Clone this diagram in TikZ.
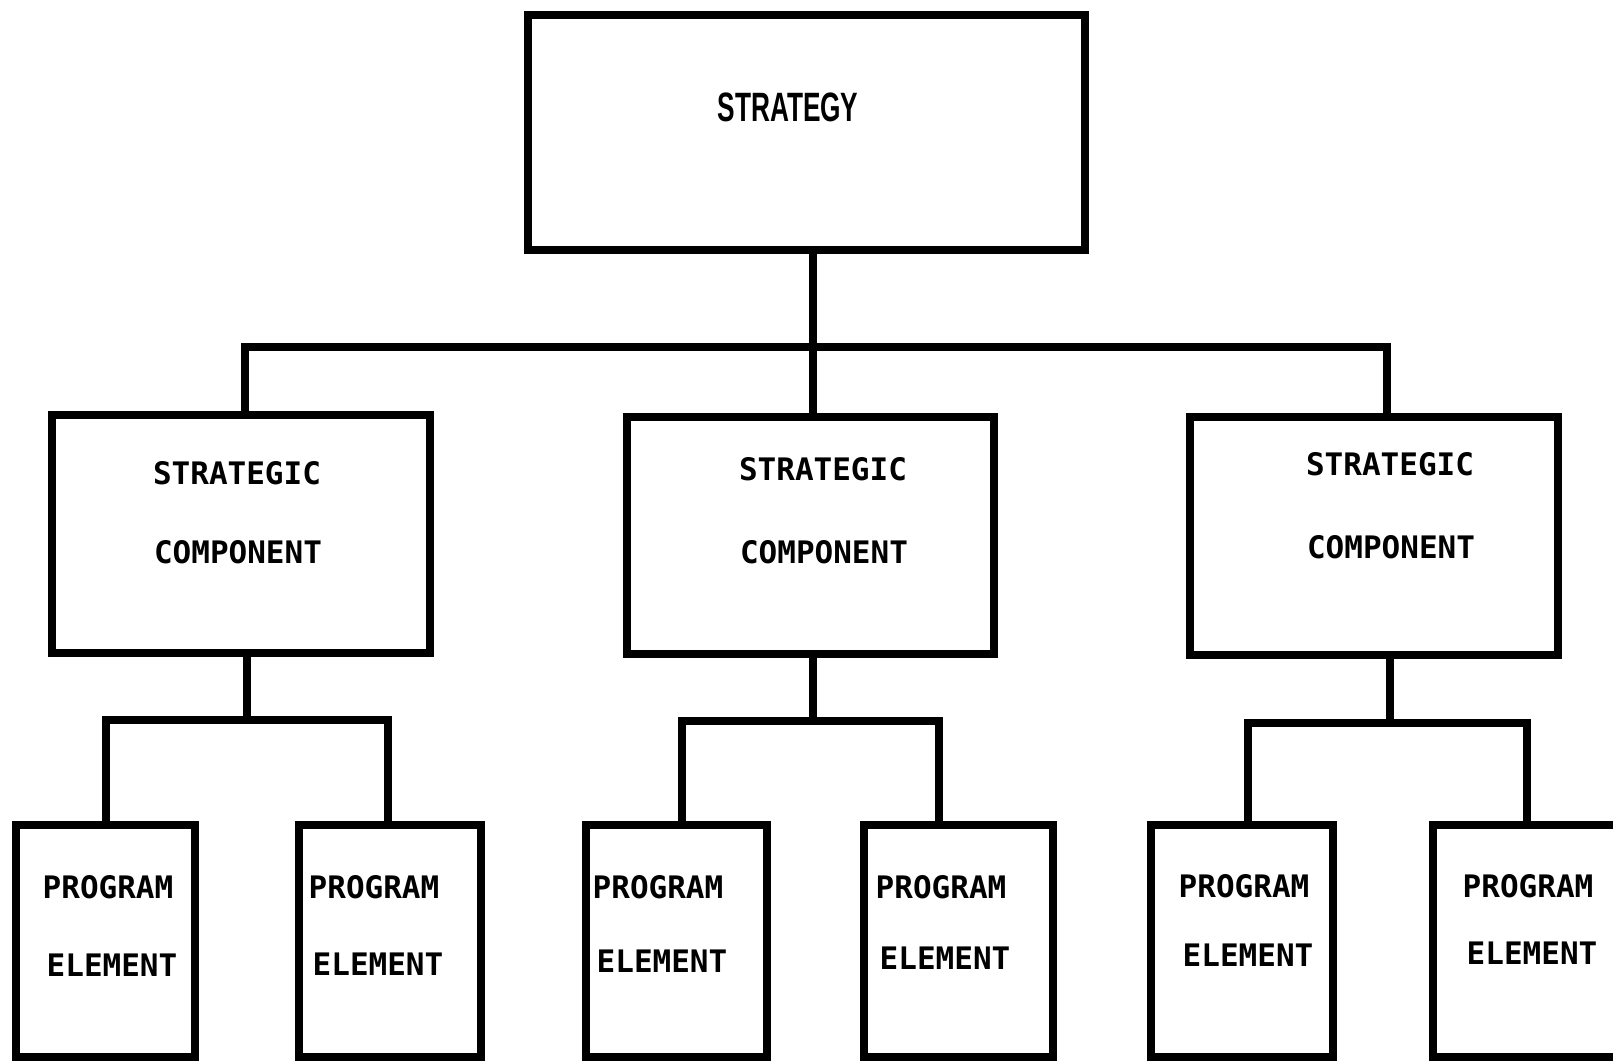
\documentclass[tikz,border=0pt]{standalone}
\usepackage{fontspec}
\newfontfamily\headfont[FakeStretch=0.64]{Liberation Sans}
\newfontfamily\typefont{DejaVu Sans Mono}

\tikzset{
  box/.style={draw, rectangle, line width=8pt, inner sep=0pt},
  wire/.style={line width=8pt, line join=miter},
  typed/.style={font=\typefont\bfseries\fontsize{31}{31}\selectfont, inner sep=0pt},
  heading/.style={font=\headfont\bfseries\fontsize{41}{41}\selectfont, inner sep=0pt},
}

\begin{document}
\begin{tikzpicture}[x=1pt,y=-1pt]
    \clip (0,0) rectangle (1613,1063);

    \node[box, minimum width=557pt, minimum height=235pt] (s) at (806.5,132.5) {};
    \node[heading] (s-t) at (788,107) {STRATEGY};

    \node[box, minimum width=378pt, minimum height=238pt] (c1) at (241,534) {};
    \node[box, minimum width=367pt, minimum height=237pt] (c2) at (810.5,535.5) {};
    \node[box, minimum width=368pt, minimum height=238pt] (c3) at (1374,536) {};

    \foreach \c/\x/\ya/\yb in {c1/237/473/552, c2/823/469/552, c3/1390/464/547} {
      \node[typed] (\c-a) at (\x,\ya) {STRATEGIC};
      \node[typed] (\c-b) at (\x+1,\yb) {COMPONENT};
    }

    \foreach \p/\x/\w/\tx/\ya/\yb in {p1/105.5/179/108/887/965, p2/390/182/374/887/964,
                                      p3/676.5/181/658/887/961, p4/958.5/189/941/887/958,
                                      p5/1242/182/1244/886/955, p6/1527.5/189/1528/886/953} {
      \node[box, minimum width=\w pt, minimum height=232pt] (\p) at (\x,941) {};
      \node[typed] (\p-a) at (\tx,\ya) {PROGRAM};
      \node[typed] (\p-b) at (\tx+4,\yb) {ELEMENT};
    }

    \coordinate (d1) at (245,347);
    \coordinate (d2) at (813,347);
    \coordinate (d3) at (1387,347);
    \draw[wire] (d1 |- c1.north) -- (d1) -- (d3) -- (d3 |- c3.north);
    \draw[wire] (d2 |- s.south) -- (d2 |- c2.north);

    \foreach \c/\l/\r/\t/\a/\b/\y in {c1/p1/p2/247/106/388/720, c2/p3/p4/813/682/939/721,
                                      c3/p5/p6/1390/1248/1527/723} {
      \coordinate (\c-j) at (\t,\y);
      \coordinate (\l-j) at (\a,\y);
      \coordinate (\r-j) at (\b,\y);
      \draw[wire] (\c-j |- \c.south) -- (\c-j);
      \draw[wire] (\l-j |- \l.north) -- (\l-j) -- (\r-j) -- (\r-j |- \r.north);
    }
\end{tikzpicture}
\end{document}
